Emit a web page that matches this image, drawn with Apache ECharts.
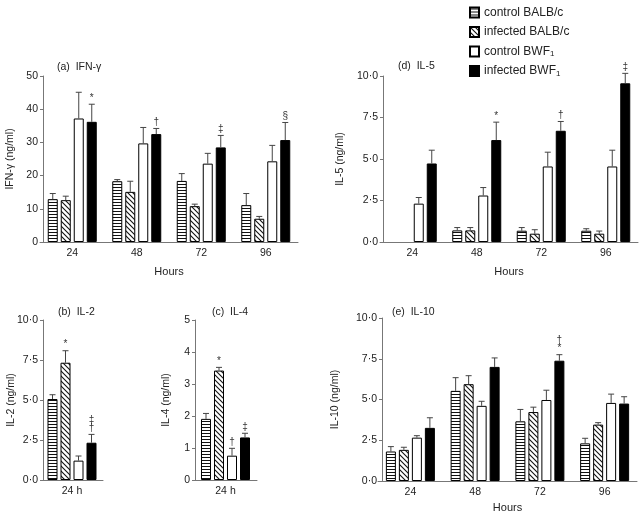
<!DOCTYPE html>
<html>
<head>
<meta charset="utf-8">
<script src="https://cdn.jsdelivr.net/npm/echarts@6/dist/echarts.min.js"></script>
<style>
    html, body { margin: 0; padding: 0; background: #fff; }
    #chart { width: 641px; height: 516px; }
</style>
</head>
<body>
<div id="chart"></div>
<script>
    var hours = ['24', '48', '72', '96'];
    var oneDay = ['24 h'];
    var groupNames = ['control BALB/c', 'infected BALB/c', 'control BWF1', 'infected BWF1'];

    // (a) IFN-γ, one row per group: mean and top of the error bar
    var ifnMean  = [[12.9, 18.3, 18.4, 11.1], [12.6, 15.1, 10.8, 7.0], [37.2, 29.7, 23.6, 24.3], [36.2, 32.5, 28.5, 30.7]];
    var ifnUpper = [[14.6, 18.8, 20.6, 14.6], [13.8, 18.3, 11.4, 7.7], [45.1, 34.5, 26.7, 29.1], [41.5, 34.2, 32.1, 36.0]];
    var ifnMarks = [['', '', '', ''], ['', '', '', ''], ['', '', '', ''], ['*', '†', '‡', '§']];

    // (d) IL-5
    var il5Mean  = [['-', 0.70, 0.68, 0.68], ['-', 0.70, 0.50, 0.50], [2.31, 2.80, 4.55, 4.55], [4.73, 6.14, 6.70, 9.56]];
    var il5Upper = [['-', 0.87, 0.87, 0.80], ['-', 0.87, 0.74, 0.66], [2.68, 3.28, 5.41, 5.53], [5.53, 7.22, 7.26, 10.16]];
    var il5Marks = [['', '', '', ''], ['', '', '', ''], ['', '', '', ''], ['', '*', '†', '‡']];

    // (b) IL-2 and (c) IL-4, 24 h only
    var il2Mean  = [[5.06], [7.33], [1.21], [2.33]];
    var il2Upper = [[5.33], [8.08], [1.50], [2.85]];
    var il2Marks = [[''], ['*'], [''], ['‡\n†']];

    var il4Mean  = [[1.91], [3.42], [0.76], [1.33]];
    var il4Upper = [[2.08], [3.52], [0.99], [1.46]];
    var il4Marks = [[''], ['*'], ['†'], ['‡']];

    // (e) IL-10
    var il10Mean  = [[1.81, 5.53, 3.66, 2.31], [1.91, 5.94, 4.23, 3.46], [2.66, 4.61, 4.97, 4.79], [3.26, 7.00, 7.38, 4.75]];
    var il10Upper = [[2.11, 6.34, 4.39, 2.62], [2.07, 6.46, 4.53, 3.58], [2.78, 4.89, 5.57, 5.33], [3.88, 7.55, 7.75, 5.17]];
    var il10Marks = [['', '', '', ''], ['', '', '', ''], ['', '', '', ''], ['', '', '†\n*', '']];

    var FONT = 'Liberation Sans, Arial, sans-serif';
    var AXIS = '#777';

    function stripes() {
        var c = document.createElement('canvas');
        c.width = 4; c.height = 3;
        var g = c.getContext('2d');
        g.fillStyle = '#fff'; g.fillRect(0, 0, 4, 3);
        g.fillStyle = '#111'; g.fillRect(0, 1, 4, 1);
        return c;
    }
    function hatch() {
        var n = 5;
        var c = document.createElement('canvas');
        c.width = n; c.height = n;
        var g = c.getContext('2d');
        g.fillStyle = '#fff'; g.fillRect(0, 0, n, n);
        g.strokeStyle = '#111'; g.lineWidth = 1.1;
        [-n, 0, n].forEach(function (k) {
            g.beginPath(); g.moveTo(-1, -1 + k); g.lineTo(n + 1, n + 1 + k); g.stroke();
        });
        return c;
    }
    var fills = [
        { image: stripes(), repeat: 'repeat' },
        { image: hatch(), repeat: 'repeat' },
        '#fff',
        '#000'
    ];

    function dotFmt(v) { return v.toFixed(1).replace('.', '·'); }
    function intFmt(v) { return String(v); }

    var series = [];
    function addPanel(idx, means, uppers, marks) {
        for (var g = 0; g < 4; g++) {
            series.push({
                name: groupNames[g],
                type: 'bar',
                xAxisIndex: idx,
                yAxisIndex: idx,
                barWidth: 10,
                barGap: '30%',
                data: means[g],
                itemStyle: { color: fills[g], borderColor: '#000', borderWidth: 1 },
                emphasis: { disabled: true },
                silent: true
            });
        }
        // error bars and significance marks
        var items = [], labels = [];
        for (var g2 = 0; g2 < 4; g2++) {
            for (var c = 0; c < means[g2].length; c++) {
                if (uppers[g2][c] === '-') continue;
                items.push([c, g2, means[g2][c], uppers[g2][c]]);
                labels.push(marks[g2][c]);
            }
        }
        series.push({
            type: 'custom',
            xAxisIndex: idx,
            yAxisIndex: idx,
            silent: true,
            z: 5,
            data: items,
            renderItem: function (params, api) {
                var p0 = api.coord([api.value(0), api.value(2)]);
                var p1 = api.coord([api.value(0), api.value(3)]);
                var x = p0[0] + (api.value(1) - 1.5) * 13;
                var st = { stroke: '#444', lineWidth: 1 };
                var kids = [
                    { type: 'line', shape: { x1: x, y1: p0[1], x2: x, y2: p1[1] }, style: st },
                    { type: 'line', shape: { x1: x - 3, y1: p1[1], x2: x + 3, y2: p1[1] }, style: st }
                ];
                var mark = labels[params.dataIndex];
                if (mark) {
                    kids.push({
                        type: 'text',
                        x: x, y: p1[1] - 2,
                        style: {
                            text: mark, x: 0, y: 0, align: 'center', verticalAlign: 'bottom',
                            fontSize: 10, lineHeight: 8, fontFamily: FONT, fill: '#333'
                        }
                    });
                }
                return { type: 'group', children: kids };
            }
        });
    }

    addPanel(0, ifnMean, ifnUpper, ifnMarks);
    addPanel(1, il5Mean, il5Upper, il5Marks);
    addPanel(2, il2Mean, il2Upper, il2Marks);
    addPanel(3, il4Mean, il4Upper, il4Marks);
    addPanel(4, il10Mean, il10Upper, il10Marks);

    function xAx(idx, cats, name, gap) {
        return {
            type: 'category', gridIndex: idx, data: cats,
            name: name, nameLocation: 'middle', nameGap: gap,
            nameTextStyle: { fontSize: 11, fontFamily: FONT, color: '#222' },
            axisLine: { lineStyle: { color: AXIS, width: 1 } },
            axisTick: { show: false },
            axisLabel: { fontSize: 10.5, fontFamily: FONT, color: '#222', margin: 6 }
        };
    }
    function yAx(idx, max, interval, name, gap, offset, fmt) {
        return {
            type: 'value', gridIndex: idx, min: 0, max: max, interval: interval,
            offset: offset,
            name: name, nameLocation: 'middle', nameGap: gap, nameMoveOverlap: false,
            nameTextStyle: { fontSize: 10.5, fontFamily: FONT, color: '#222' },
            axisLine: { show: true, lineStyle: { color: AXIS, width: 1 } },
            axisTick: { show: true, length: 3, lineStyle: { color: AXIS } },
            splitLine: { show: false },
            axisLabel: { fontSize: 10.5, fontFamily: FONT, color: '#222', margin: 5, formatter: fmt }
        };
    }

    function ttl(text, left, top) {
        return { text: text, left: left, top: top, padding: 0,
            textStyle: { fontSize: 10.5, fontWeight: 'normal', fontFamily: FONT, color: '#222' } };
    }

    var chart = echarts.init(document.getElementById('chart'), null, { renderer: 'canvas' });
    chart.setOption({
        animation: false,
        backgroundColor: '#fff',
        title: [
            ttl('(a)  IFN-γ', 57, 62),
            ttl('(d)  IL-5', 398, 61),
            ttl('(b)  IL-2', 58, 307),
            ttl('(c)  IL-4', 212, 307),
            ttl('(e)  IL-10', 392, 307)
        ],
        legend: {
            orient: 'vertical', left: 469, top: 6, padding: 0,
            itemWidth: 9, itemHeight: 10, itemGap: 6.5,
            icon: 'rect',
            data: groupNames,
            selectedMode: false,
            formatter: function (n) { return n.replace('BWF1', 'BWF{sub|1}'); },
            textStyle: {
                fontSize: 12, fontFamily: FONT, color: '#222', lineHeight: 13,
                rich: { sub: { fontSize: 8, fontFamily: FONT, color: '#222', verticalAlign: 'bottom', lineHeight: 13, padding: [5, 0, 0, 0] } }
            }
        },
        grid: [
            { left: 40, top: 76, width: 258, height: 166 },
            { left: 380, top: 76, width: 258, height: 166 },
            { left: 41, top: 320, width: 62, height: 160 },
            { left: 194, top: 320, width: 63, height: 160 },
            { left: 378, top: 318, width: 259, height: 163 }
        ],
        xAxis: [
            xAx(0, hours, 'Hours', 24),
            xAx(1, hours, 'Hours', 24),
            xAx(2, oneDay, '', 0),
            xAx(3, oneDay, '', 0),
            xAx(4, hours, 'Hours', 21)
        ],
        yAxis: [
            yAx(0, 50, 10, 'IFN-γ (ng/ml)', 27, -3, intFmt),
            yAx(1, 10, 2.5, 'IL-5 (ng/ml)', 37, -3, dotFmt),
            yAx(2, 10, 2.5, 'IL-2 (ng/ml)', 26, -2, dotFmt),
            yAx(3, 5, 1, 'IL-4 (ng/ml)', 23, -1, intFmt),
            yAx(4, 10, 2.5, 'IL-10 (ng/ml)', 41, -4, dotFmt)
        ],
        series: series
    });
</script>
</body>
</html>
